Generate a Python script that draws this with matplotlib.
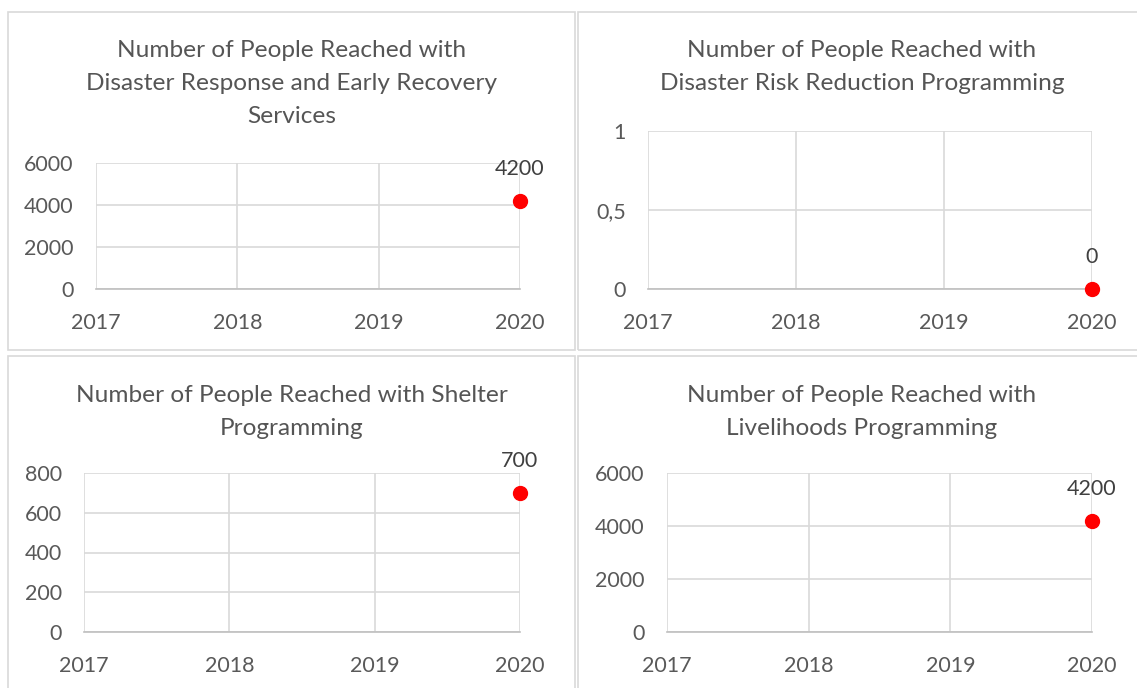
import numpy as np
import matplotlib.pyplot as plt
from matplotlib.patches import Rectangle

# data
years = ['2017', '2018', '2019', '2020']
response = [np.nan, np.nan, np.nan, 4200]
risk = [np.nan, np.nan, np.nan, 0]
shelter = [np.nan, np.nan, np.nan, 700]
livelihoods = [np.nan, np.nan, np.nan, 4200]

titles = ['Number of People Reached with\nDisaster Response and Early Recovery\nServices',
          'Number of People Reached with\nDisaster Risk Reduction Programming',
          'Number of People Reached with Shelter\nProgramming',
          'Number of People Reached with\nLivelihoods Programming']
yticks = [[0, 2000, 4000, 6000], [0, 0.5, 1], [0, 200, 400, 600, 800], [0, 2000, 4000, 6000]]
yticklabels = [['0', '2000', '4000', '6000'], ['0', '0,5', '1'],
               ['0', '200', '400', '600', '800'], ['0', '2000', '4000', '6000']]
series = [response, risk, shelter, livelihoods]

W, H = 1137, 688
plt.rcParams['font.family'] = ['Lato', 'DejaVu Sans']
fig = plt.figure(figsize=(W / 100, H / 100), dpi=100)

def fx(px):
    return px / W

def fy(py):
    return 1 - py / H

# pixel boxes: left, top, right, bottom
panels = [(8, 12, 575, 350), (578, 12, 1145, 350), (8, 356, 575, 695), (578, 356, 1145, 695)]
axboxes = [(96, 163, 520, 289), (648, 131, 1092, 289), (84, 473, 520, 632), (667, 473, 1092, 632)]
title_top = [50.5, 50.5, 395.5, 395.5]

text_c = '#595959'
for i in range(4):
    l, t, r, b = panels[i]
    fig.patches.append(Rectangle((fx(l), fy(b)), fx(r - l), (b - t) / H, transform=fig.transFigure,
                                 fill=False, edgecolor='#d9d9d9', lw=1.2))
    cx = (l + r) / 2 if i % 2 == 0 else 862
    for k, line in enumerate(titles[i].split('\n')):
        fig.text(fx(cx), fy(title_top[i] + 33 * k), line, ha='center', va='center',
                 fontsize=17.6, color='#555555')

    l, t, r, b = axboxes[i]
    ax = fig.add_axes([fx(l), fy(b), fx(r - l), (b - t) / H])
    ax.plot(range(4), series[i], 'o', color='#ff0000', ms=10, clip_on=False, zorder=5)
    ax.annotate(f'{series[i][3]:.0f}', (3, series[i][3]), xytext=(0, 23), textcoords='offset points',
                ha='center', va='center', fontsize=15.5, color='#404040')
    ax.set_xlim(0, 3)
    ax.set_ylim(yticks[i][0], yticks[i][-1])
    ax.set_xticks(range(4))
    ax.set_xticklabels(years)
    ax.set_yticks(yticks[i])
    ax.set_yticklabels(yticklabels[i])
    ax.grid(True, color='#d9d9d9', lw=1.2)
    ax.set_axisbelow(True)
    for s in ['top', 'right', 'left']:
        ax.spines[s].set_visible(False)
    ax.spines['bottom'].set_color('#bfbfbf')
    ax.spines['bottom'].set_linewidth(1.2)
    ax.tick_params(length=0, labelsize=15.5, colors=text_c)
    ax.tick_params(axis='x', pad=17)
    ax.tick_params(axis='y', pad=16)

fig.savefig('out.png', dpi=100)
